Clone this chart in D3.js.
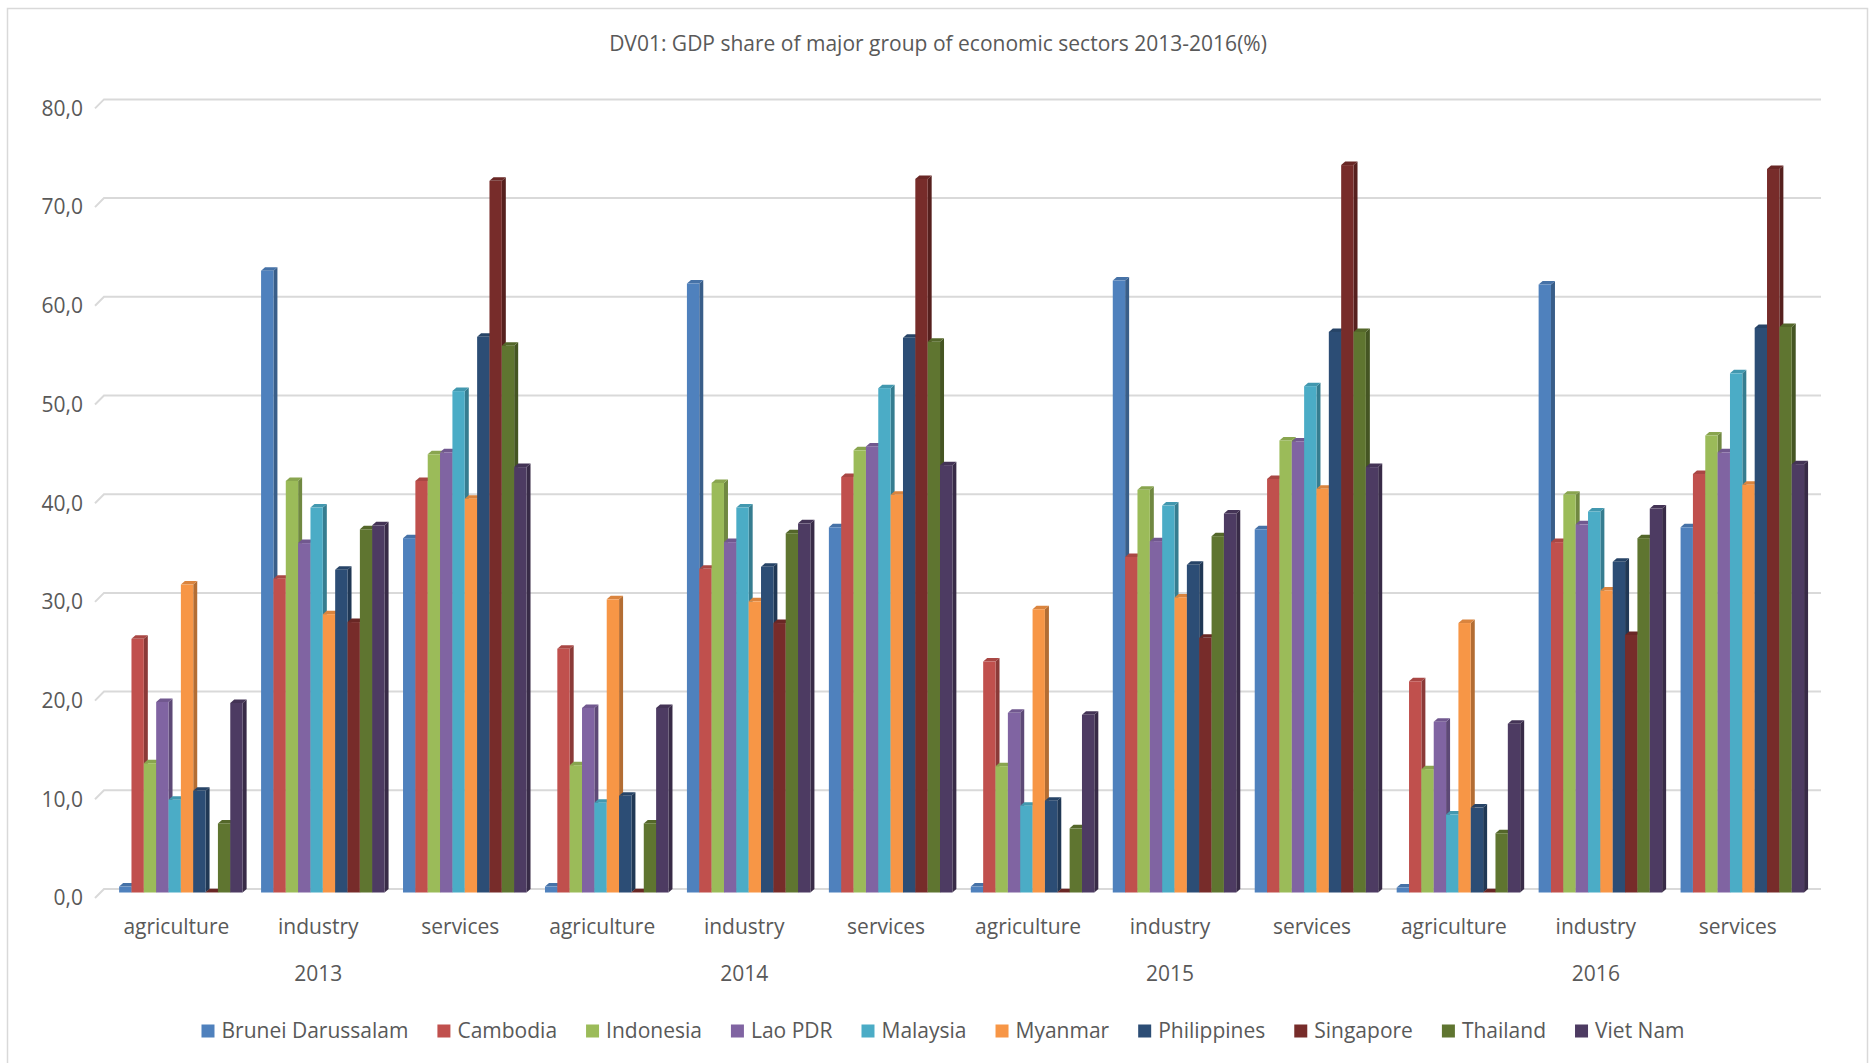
<!DOCTYPE html>
<html>
<head>
<meta charset="utf-8">
<script src="https://cdn.jsdelivr.net/npm/d3@7"></script>
<style>
  html, body { margin: 0; padding: 0; background: #fff; }
  svg { display: block; }
  text { font-family: "Open Sans", "Noto Sans", sans-serif; fill: #595959; }
</style>
</head>
<body>
<svg id="chart" width="1869" height="1063"></svg>
<script>
// ---- data -------------------------------------------------------------
const chartTitle = "DV01: GDP share of major group of economic sectors 2013-2016(%)";
const years = ["2013", "2014", "2015", "2016"];
const sectors = ["agriculture", "industry", "services"];
const countries = ["Brunei Darussalam", "Cambodia", "Indonesia", "Lao PDR", "Malaysia",
                   "Myanmar", "Philippines", "Singapore", "Thailand", "Viet Nam"];
const colors = ["#4F81BD", "#C0504D", "#9BBB59", "#8064A2", "#4BACC6",
                "#F79646", "#2C4D75", "#772C2A", "#5F7530", "#4D3B62"];
const yTicks = [0, 10, 20, 30, 40, 50, 60, 70, 80];

// values per country: [2013 agri, ind, serv, 2014 agri, ind, serv, 2015 ..., 2016 ...]
const brunei      = [0.6, 63.0, 35.9,  0.6, 61.7, 37.0,  0.6, 62.0, 36.8,  0.5, 61.6, 37.0];
const cambodia    = [25.7, 31.8, 41.7, 24.7, 32.8, 42.1, 23.4, 34.0, 41.9, 21.4, 35.5, 42.4];
const indonesia   = [13.1, 41.7, 44.4, 12.9, 41.5, 44.8, 12.8, 40.8, 45.8, 12.5, 40.3, 46.3];
const laoPDR      = [19.3, 35.4, 44.6, 18.7, 35.5, 45.2, 18.2, 35.6, 45.7, 17.3, 37.3, 44.6];
const malaysia    = [9.4, 39.0, 50.8,  9.1, 39.0, 51.1,  8.8, 39.2, 51.3,  7.9, 38.6, 52.6];
const myanmar     = [31.2, 28.2, 39.9, 29.7, 29.5, 40.3, 28.7, 29.9, 40.9, 27.3, 30.6, 41.3];
const philippines = [10.3, 32.7, 56.3,  9.8, 33.0, 56.2,  9.3, 33.2, 56.8,  8.6, 33.5, 57.2];
const singapore   = [0.03, 27.4, 72.1, 0.03, 27.3, 72.3, 0.03, 25.8, 73.7, 0.03, 26.1, 73.3];
const thailand    = [7.0, 36.8, 55.4,  7.0, 36.4, 55.8,  6.5, 36.1, 56.8,  6.0, 35.9, 57.3];
const vietNam     = [19.2, 37.2, 43.1, 18.7, 37.4, 43.3, 18.0, 38.4, 43.1, 17.1, 38.9, 43.4];

const seriesValues = [brunei, cambodia, indonesia, laoPDR, malaysia,
                      myanmar, philippines, singapore, thailand, vietNam];

// ---- layout -----------------------------------------------------------
const W = 1869, H = 1063;
const gridColor = "#d9d9d9";
const fontSize = 21;

const floorDepth = { dx: 9, dy: 9 };    // front edge of floor vs. back wall
const barFront = { dx: 4.5, dy: 3.5 };  // bar front plane offset (right of category centre, below back wall)
const barDepth = { dx: 4, dy: 3.5 };    // bar top/side faces

const svg = d3.select("#chart").attr("viewBox", `0 0 ${W} ${H}`);

// chart area frame
svg.append("rect")
  .attr("x", 7.5).attr("y", 8.5)
  .attr("width", 1860).attr("height", H + 20)
  .attr("fill", "#fff")
  .attr("stroke", gridColor).attr("stroke-width", 1.5);

// title
svg.append("text")
  .attr("x", 938).attr("y", 44)
  .attr("dy", "0.35em")
  .attr("text-anchor", "middle")
  .style("font-size", "21px")
  .text(chartTitle);

// value scale on the back wall
const y = d3.scaleLinear().domain([0, 80]).range([889, 99.4]);

// category scale on the front plane
const groupKeys = years.flatMap(yr => sectors.map(s => yr + "|" + s));
const x0 = d3.scaleBand()
  .domain(groupKeys)
  .range([105.4, 1808.8])
  .paddingInner(0.13)
  .paddingOuter(0.065);
const x1 = d3.scaleBand()
  .domain(countries)
  .range([0, x0.bandwidth()]);

// gridlines: short floor diagonal at the left, then across the back wall
const wallLeft = 104, wallRight = 1821;
svg.append("g").attr("class", "grid")
  .selectAll("path")
  .data(yTicks)
  .join("path")
  .attr("d", t => `M${wallLeft - floorDepth.dx},${y(t) + floorDepth.dy}L${wallLeft},${y(t)}L${wallRight},${y(t)}`)
  .attr("fill", "none")
  .attr("stroke", gridColor)
  .attr("stroke-width", 2);

// value labels
const fmt = v => d3.format(".1f")(v).replace(".", ",");
svg.append("g").attr("class", "y-labels")
  .selectAll("text")
  .data(yTicks)
  .join("text")
  .attr("x", 83)
  .attr("y", t => y(t) + floorDepth.dy)
  .attr("dy", "0.35em")
  .attr("text-anchor", "end")
  .style("font-size", fontSize + "px")
  .text(fmt);

// 3-D columns
const rows = [];
groupKeys.forEach((key, gi) => {
  countries.forEach((c, si) => {
    rows.push({ key, country: c, color: colors[si], value: seriesValues[si][gi] });
  });
});

const base = y(0) + barFront.dy;
const bars = svg.append("g").attr("class", "bars")
  .selectAll("g")
  .data(rows)
  .join("g");

bars.each(function (d) {
  const g = d3.select(this);
  const w = x1.bandwidth();
  const xl = x0(d.key) + x1(d.country) + barFront.dx;
  const xr = xl + w;
  const yt = y(d.value) + barFront.dy;
  const c = d3.color(d.color);
  // right side face
  g.append("path")
    .attr("d", `M${xr},${yt}L${xr + barDepth.dx},${yt - barDepth.dy}L${xr + barDepth.dx},${base - barDepth.dy}L${xr},${base}Z`)
    .attr("fill", c.darker(0.9));
  // top face
  g.append("path")
    .attr("d", `M${xl},${yt}L${xl + barDepth.dx},${yt - barDepth.dy}L${xr + barDepth.dx},${yt - barDepth.dy}L${xr},${yt}Z`)
    .attr("fill", c.darker(0.35));
  // front face
  g.append("rect")
    .attr("x", xl).attr("y", yt)
    .attr("width", w).attr("height", Math.max(0, base - yt))
    .attr("fill", c);
});

// category labels
svg.append("g").attr("class", "x-labels")
  .selectAll("text")
  .data(groupKeys)
  .join("text")
  .attr("x", k => x0(k) + x0.bandwidth() / 2)
  .attr("y", 927)
  .attr("dy", "0.35em")
  .attr("text-anchor", "middle")
  .style("font-size", fontSize + "px")
  .text(k => k.split("|")[1]);

// year labels, under the middle sector of each year
svg.append("g").attr("class", "year-labels")
  .selectAll("text")
  .data(years)
  .join("text")
  .attr("x", yr => x0(yr + "|" + sectors[1]) + x0.bandwidth() / 2)
  .attr("y", 974)
  .attr("dy", "0.35em")
  .attr("text-anchor", "middle")
  .style("font-size", fontSize + "px")
  .text(yr => yr);

// legend
const legendY = 1031, sw = 13, swGap = 7, itemGap = 29;
const legend = svg.append("g").attr("class", "legend");
const items = legend.selectAll("g")
  .data(countries)
  .join("g");
items.append("rect")
  .attr("width", sw).attr("height", sw)
  .attr("y", legendY - sw / 2)
  .attr("fill", (d, i) => colors[i]);
items.append("text")
  .attr("x", sw + swGap)
  .attr("y", legendY)
  .attr("dy", "0.35em")
  .style("font-size", fontSize + "px")
  .text(d => d);
let cursor = 0;
const offsets = [];
items.each(function () {
  const tw = d3.select(this).select("text").node().getComputedTextLength();
  offsets.push(cursor);
  cursor += sw + swGap + tw + itemGap;
});
const legendWidth = cursor - itemGap;
const legendStart = 943 - legendWidth / 2;
items.attr("transform", (d, i) => `translate(${legendStart + offsets[i]},0)`);
</script>
</body>
</html>
